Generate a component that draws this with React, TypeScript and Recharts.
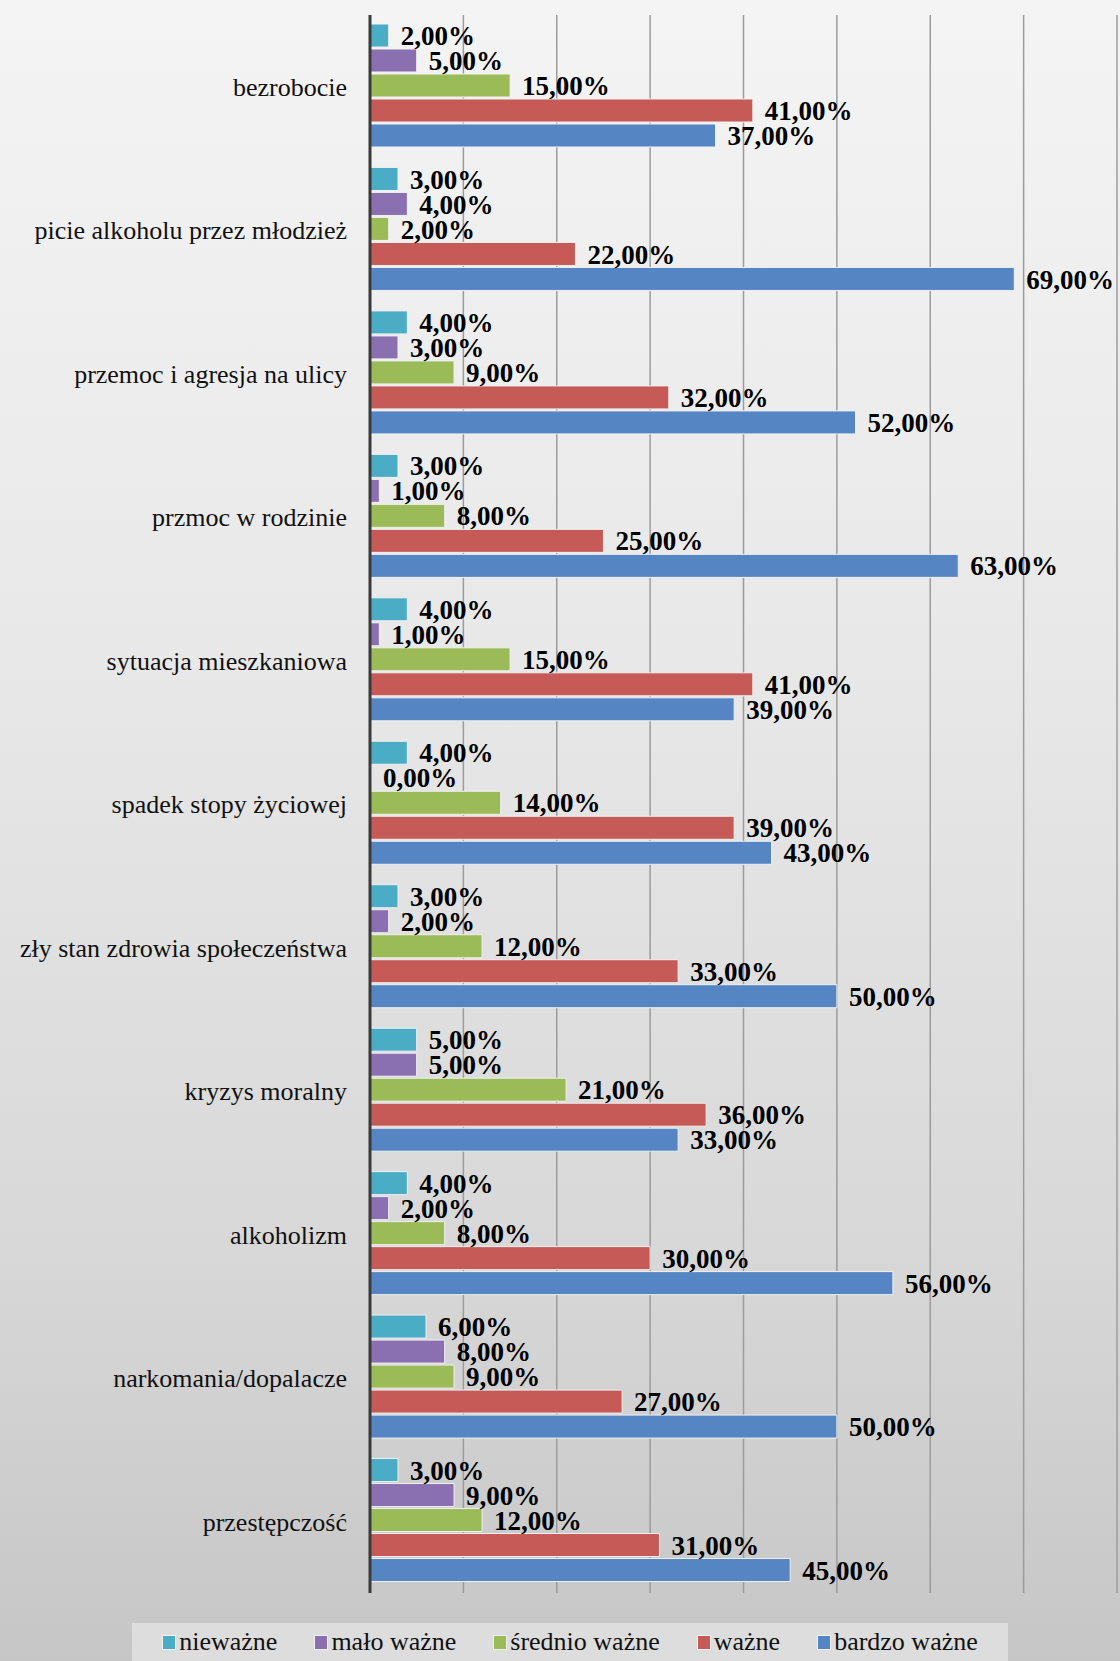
import * as React from "react"
import {
  BarChart,
  Bar,
  XAxis,
  YAxis,
  CartesianGrid,
  LabelList,
} from "recharts"

const categories = [
  "bezrobocie",
  "picie alkoholu przez młodzież",
  "przemoc i agresja na ulicy",
  "przmoc w rodzinie",
  "sytuacja mieszkaniowa",
  "spadek stopy życiowej",
  "zły stan zdrowia społeczeństwa",
  "kryzys moralny",
  "alkoholizm",
  "narkomania/dopalacze",
  "przestępczość",
]

const niewazne = [2, 3, 4, 3, 4, 4, 3, 5, 4, 6, 3]
const maloWazne = [5, 4, 3, 1, 1, 0, 2, 5, 2, 8, 9]
const srednioWazne = [15, 2, 9, 8, 15, 14, 12, 21, 8, 9, 12]
const wazne = [41, 22, 32, 25, 41, 39, 33, 36, 30, 27, 31]
const bardzoWazne = [37, 69, 52, 63, 39, 43, 50, 33, 56, 50, 45]

const xTicks = [0, 10, 20, 30, 40, 50, 60, 70, 80]

const series = [
  { key: "niewazne", name: "nieważne", color: "#4bacc6" },
  { key: "maloWazne", name: "mało ważne", color: "#8a70b0" },
  { key: "srednioWazne", name: "średnio ważne", color: "#9bbb59" },
  { key: "wazne", name: "ważne", color: "#c55a57" },
  { key: "bardzoWazne", name: "bardzo ważne", color: "#5685c4" },
]

const data = categories.map((name, i) => ({
  name,
  niewazne: niewazne[i],
  maloWazne: maloWazne[i],
  srednioWazne: srednioWazne[i],
  wazne: wazne[i],
  bardzoWazne: bardzoWazne[i],
}))

const serif = '"Liberation Serif", "Times New Roman", serif'

const fmt = (v: any) => Number(v).toFixed(2).replace(".", ",") + "%"

export default function App() {
  return (
    <div
      style={{
        position: "absolute",
        left: 0,
        top: 0,
        width: 1120,
        height: 1661,
        background:
          "linear-gradient(180deg, #f4f4f4 0%, #e8e8e8 40%, #d8d8d8 75%, #c6c6c6 100%)",
        overflow: "hidden",
      }}
    >
      <BarChart
        width={1120}
        height={1661}
        data={data}
        layout="vertical"
        margin={{ top: 15, right: 3, left: 0, bottom: 68 }}
        barCategoryGap={9}
        barGap={2}
      >
        <CartesianGrid horizontal={false} stroke="#9c9c9c" strokeWidth={1.5} />
        <XAxis type="number" domain={[0, 80]} ticks={xTicks} hide />
        <YAxis
          type="category"
          dataKey="name"
          width={370}
          axisLine={{ stroke: "#3a3a3a", strokeWidth: 3 }}
          tickLine={false}
          tickSize={0}
          tickMargin={23}
          tick={{ fontFamily: serif, fontSize: 26, fill: "#111" }}
        />
        {series.map((s) => (
          <Bar
            key={s.key}
            dataKey={s.key}
            name={s.name}
            fill={s.color}
            stroke="#f0f0f0"
            strokeWidth={1}
            minPointSize={1}
            isAnimationActive={false}
          >
            <LabelList
              dataKey={s.key}
              position="right"
              offset={12}
              formatter={fmt}
              style={{
                fontFamily: serif,
                fontSize: 27,
                fontWeight: "bold",
                fill: "#000",
              }}
            />
          </Bar>
        ))}
      </BarChart>
      <div
        style={{
          position: "absolute",
          left: 132,
          top: 1623,
          width: 876,
          height: 38,
          background: "#dddddd",
          display: "flex",
          alignItems: "center",
          justifyContent: "center",
          fontFamily: serif,
          fontSize: 26,
          color: "#111",
        }}
      >
        {series.map((s, i) => (
          <div
            key={s.key}
            style={{
              display: "flex",
              alignItems: "center",
              marginRight: i < series.length - 1 ? 37 : 0,
            }}
          >
            <span
              style={{
                display: "inline-block",
                width: 12,
                height: 13,
                background: s.color,
                border: "1px solid #f0f0f0",
                marginRight: 3,
              }}
            />
            <span>{s.name}</span>
          </div>
        ))}
      </div>
    </div>
  )
}
